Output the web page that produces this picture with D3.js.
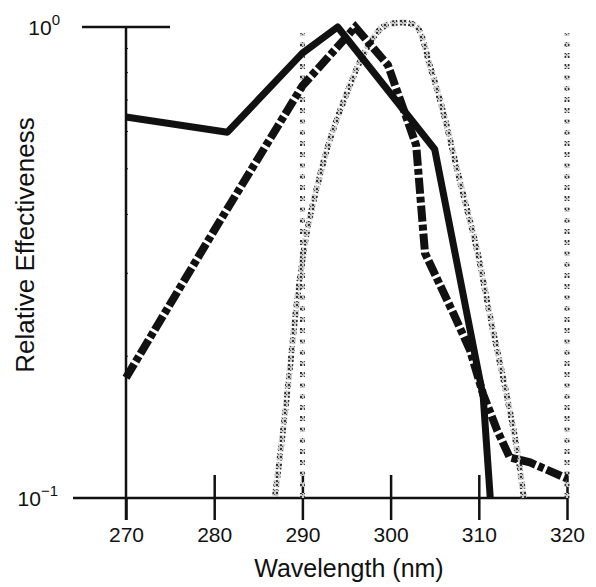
<!DOCTYPE html>
<html>
<head>
<meta charset="utf-8">
<script src="https://cdn.jsdelivr.net/npm/d3@7"></script>
<style>
  body { margin: 0; background: #fff; }
  text { font-family: "Liberation Sans", Arial, sans-serif; fill: #111; }
</style>
</head>
<body>
<script>
// values (wavelength in nm, relative effectiveness)
const solidNm  = [270, 281.5, 290, 294, 305, 310.5, 311.3];
const solidVal = [0.644, 0.598, 0.88, 1.0, 0.55, 0.164, 0.1];

const dashNm  = [270, 280, 290, 296, 299.7, 302.9, 303.9, 307.1, 309.0, 310.5, 312.1, 313.5, 315.8, 320];
const dashVal = [0.18, 0.37, 0.75, 1.0, 0.83, 0.561, 0.331, 0.247, 0.206, 0.166, 0.139, 0.122, 0.119, 0.110];

const grayNm  = [286.9, 287.8, 288.6, 289.4, 290.5, 292.0, 293.1, 294.3, 295.4, 296.5, 297.9, 299.1, 300.5, 301.9, 303.0, 304.5, 305.9, 307.9, 309.8, 311.3, 313.2, 314.3, 315.1];
const grayVal = [0.101, 0.139, 0.190, 0.263, 0.366, 0.485, 0.575, 0.667, 0.753, 0.843, 0.94, 1.0, 1.02, 1.02, 1.0, 0.822, 0.667, 0.467, 0.336, 0.242, 0.164, 0.128, 0.1];

const edgeNm = [290, 320];     // dotted range markers
const edgeVal = [0.1, 0.97];

const xTicks = [270, 280, 290, 300, 310, 320];
const yTicks = [1, 0.1];
const yTickExp = ["0", "\u22121"];
const yMinor = [0.2, 0.3, 0.4, 0.5, 0.6, 0.7, 0.8, 0.9];

const w = 596, h = 587;

const svg = d3.select("body").append("svg")
  .attr("width", w)
  .attr("height", h);

const defs = svg.append("defs");
const pat = defs.append("pattern")
  .attr("id", "speckle")
  .attr("width", 4).attr("height", 4)
  .attr("patternUnits", "userSpaceOnUse");
pat.append("rect").attr("width", 4).attr("height", 4).attr("fill", "#c8c8c8");
pat.append("rect").attr("x", 0).attr("y", 0).attr("width", 2).attr("height", 2).attr("fill", "#333");
pat.append("rect").attr("x", 2).attr("y", 2).attr("width", 1).attr("height", 1).attr("fill", "#555");

const x = d3.scaleLinear().domain([270, 320]).range([126, 567]);
const y = d3.scaleLog().domain([0.1, 1]).range([498, 27]);

// axes
const axisY = y(0.1);
svg.append("g")
  .attr("transform", `translate(0,${axisY})`)
  .call(d3.axisBottom(x).tickValues(xTicks).tickSize(22).tickPadding(7))
  .call(g => g.select(".domain").remove())
  .call(g => g.selectAll(".tick line").attr("stroke", "#111").attr("stroke-width", 2.5))
  .call(g => g.selectAll(".tick text").attr("font-size", 21).attr("fill", "#111")
    .style("font-family", "'Liberation Sans', Arial, sans-serif"));

svg.append("g")
  .attr("transform", `translate(0,${axisY})`)
  .call(d3.axisBottom(x).tickValues(xTicks.slice(1)).tickSize(-23).tickFormat(""))
  .call(g => g.select(".domain").remove())
  .call(g => g.selectAll(".tick line").attr("stroke", "#111").attr("stroke-width", 2.5));

svg.append("line")
  .attr("x1", x(270) - 53).attr("x2", x(320))
  .attr("y1", axisY).attr("y2", axisY)
  .attr("stroke", "#111").attr("stroke-width", 2.5);

svg.append("line")
  .attr("x1", x(270)).attr("x2", x(270))
  .attr("y1", y(1)).attr("y2", axisY + 22)
  .attr("stroke", "#111").attr("stroke-width", 2.5);

svg.append("line")
  .attr("x1", x(270) - 44).attr("x2", x(270) + 44)
  .attr("y1", y(1)).attr("y2", y(1))
  .attr("stroke", "#111").attr("stroke-width", 2.5);

svg.selectAll(".minor")
  .data(yMinor)
  .enter()
  .append("line")
  .attr("class", "minor")
  .attr("x1", x(270)).attr("x2", x(270) + 2)
  .attr("y1", d => y(d)).attr("y2", d => y(d))
  .attr("stroke", "#111").attr("stroke-width", 1);

const ylab = svg.selectAll(".ylab")
  .data(yTicks)
  .enter()
  .append("text")
  .attr("class", "ylab")
  .attr("x", (d, i) => i === 0 ? 60 : 58)
  .attr("y", d => y(d) + 8)
  .attr("text-anchor", "end")
  .attr("font-size", 21)
  .text("10");
ylab.append("tspan")
  .attr("dy", -10)
  .attr("font-size", 15)
  .text((d, i) => yTickExp[i]);

svg.append("text")
  .attr("x", 349).attr("y", 577)
  .attr("text-anchor", "middle")
  .attr("font-size", 25)
  .text("Wavelength (nm)");

svg.append("text")
  .attr("transform", "translate(34,245) rotate(-90)")
  .attr("text-anchor", "middle")
  .attr("font-size", 26)
  .text("Relative Effectiveness");

// series
const line = d3.line()
  .x(d => x(d[0]))
  .y(d => y(d[1]));

svg.selectAll(".edge")
  .data(edgeNm)
  .enter()
  .append("path")
  .attr("class", "edge")
  .attr("d", d => line(edgeVal.map(v => [d, v])))
  .attr("fill", "none")
  .attr("stroke", "url(#speckle)")
  .attr("stroke-width", 5)
  .attr("stroke-dasharray", "5,6");

svg.append("path")
  .datum(grayNm.map((d, i) => [d, grayVal[i]]))
  .attr("d", line.curve(d3.curveCatmullRom))
  .attr("fill", "none")
  .attr("stroke", "url(#speckle)")
  .attr("stroke-width", 6)
  .attr("stroke-dasharray", "7,2");

line.curve(d3.curveLinear);

svg.append("path")
  .datum(solidNm.map((d, i) => [d, solidVal[i]]))
  .attr("d", line)
  .attr("fill", "none")
  .attr("stroke", "#111")
  .attr("stroke-width", 7)
  .attr("stroke-linejoin", "round");

svg.append("path")
  .datum(dashNm.map((d, i) => [d, dashVal[i]]))
  .attr("d", line)
  .attr("fill", "none")
  .attr("stroke", "#111")
  .attr("stroke-width", 8)
  .attr("stroke-dasharray", "16,3,6,3");
</script>
</body>
</html>
